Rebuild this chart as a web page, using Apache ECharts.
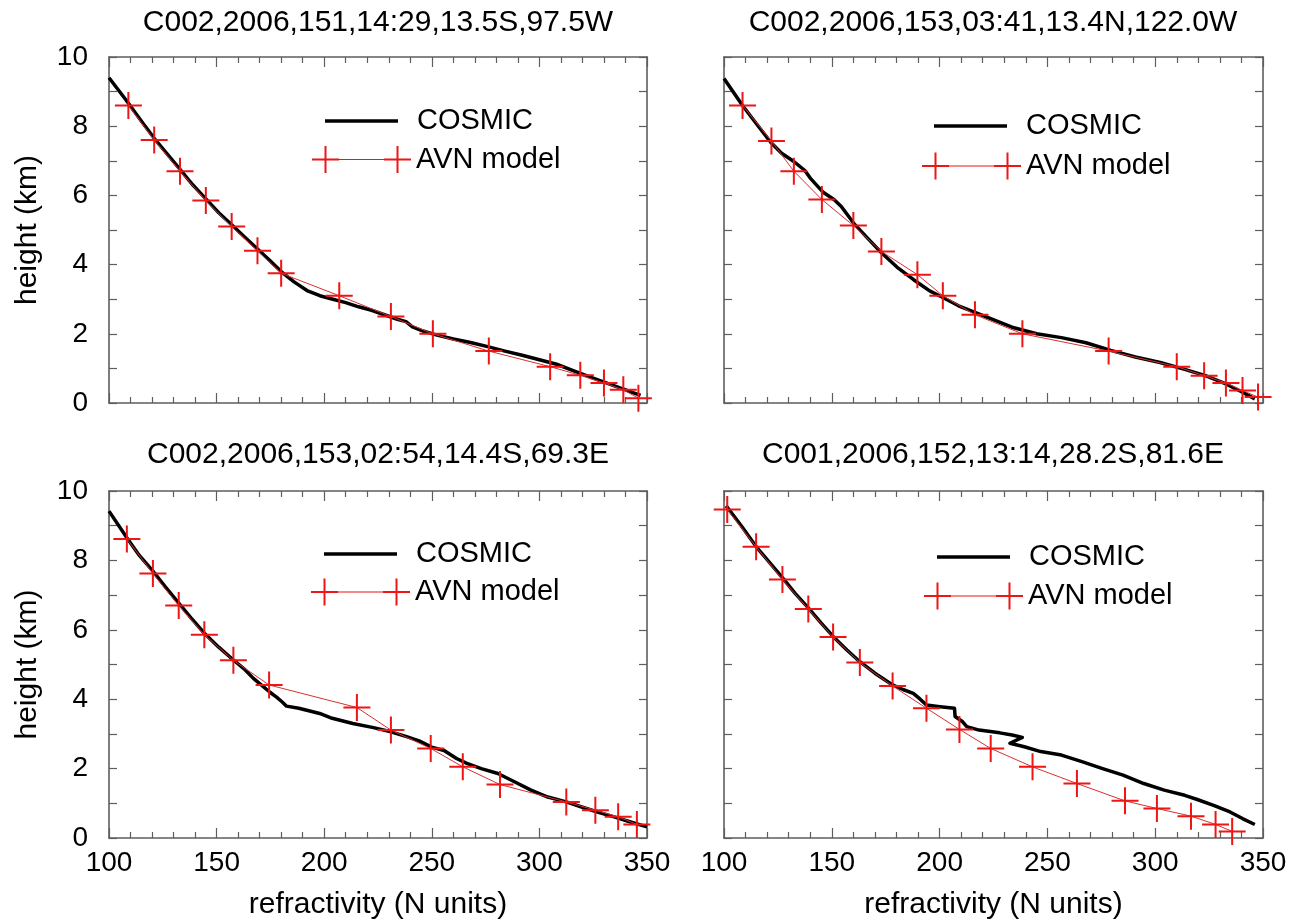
<!DOCTYPE html>
<html>
<head>
<meta charset="utf-8">
<script src="https://cdn.jsdelivr.net/npm/echarts@6/dist/echarts.min.js"></script>
<style>
  html, body { margin: 0; padding: 0; background: #fff; }
  #chart { width: 1294px; height: 921px; }
</style>
</head>
<body>
<div id="chart"></div>
<script>
// ---------------- DATA ----------------
const panelTitles = [
  'C002,2006,151,14:29,13.5S,97.5W',
  'C002,2006,153,03:41,13.4N,122.0W',
  'C002,2006,153,02:54,14.4S,69.3E',
  'C001,2006,152,13:14,28.2S,81.6E'
];
const seriesNames = ['COSMIC', 'AVN model'];
const xAxisName = 'refractivity (N units)';
const yAxisName = 'height (km)';
const xTickLabels = [100, 150, 200, 250, 300, 350];
const yTickLabels = [0, 2, 4, 6, 8, 10];

// panel 1 (top-left)
const cosmicTL = [[100,9.4],[108,8.75],[115,8.15],[121,7.65],[127,7.2],[133,6.75],[139,6.3],[145,5.9],[151,5.5],[157,5.15],[163,4.8],[169,4.45],[175,4.1],[180,3.8],[186,3.5],[192,3.25],[198,3.1],[204,3.0],[210,2.9],[216,2.78],[222,2.68],[228,2.55],[234,2.42],[238,2.35],[241,2.2],[246,2.08],[252,1.97],[260,1.85],[268,1.75],[276,1.63],[284,1.5],[292,1.38],[300,1.25],[308,1.12],[316,0.93],[324,0.74],[332,0.56],[340,0.38],[347,0.22]];
const avnTL = [[109,8.6],[121,7.6],[133,6.7],[145,5.85],[157,5.1],[169,4.4],[180,3.75],[207,3.1],[231,2.5],[250.5,2.0],[276.5,1.5],[305,1.05],[319,0.8],[330,0.58],[339,0.38],[346,0.14]];

// panel 2 (top-right)
const cosmicTR = [[100,9.38],[108.6,8.6],[115.3,8.05],[121.9,7.52],[126.7,7.22],[132.4,6.98],[137.5,6.72],[140,6.5],[145.8,6.1],[151,5.88],[154.4,5.68],[160.1,5.2],[166.8,4.75],[172.9,4.35],[180.2,3.93],[187.8,3.57],[195.4,3.24],[201.5,3.05],[208.8,2.81],[216.4,2.62],[224,2.43],[233.6,2.19],[245,2.0],[256.5,1.89],[267.9,1.74],[279.4,1.52],[290.8,1.33],[302.3,1.17],[313.7,0.97],[323.3,0.79],[332.8,0.55],[340.5,0.31],[346.2,0.12]];
const avnTR = [[108.6,8.6],[122,7.57],[132.4,6.7],[145.4,5.88],[160,5.13],[173,4.38],[189.7,3.71],[201.5,3.1],[216.4,2.55],[238.4,2.0],[278.4,1.5],[310,1.05],[322.7,0.79],[332.8,0.58],[340.5,0.36],[347.7,0.17]];

// panel 3 (bottom-left)
const cosmicBL = [[100,9.42],[108.3,8.65],[114,8.15],[120.4,7.69],[126,7.25],[132.4,6.77],[138,6.35],[144.3,5.9],[151,5.5],[157.8,5.13],[163.2,4.85],[167.1,4.6],[171,4.4],[174.8,4.2],[178,4.05],[180.5,3.92],[182.5,3.8],[188.2,3.74],[197.9,3.59],[203.7,3.45],[213.3,3.3],[222.9,3.18],[231,3.06],[238.3,2.92],[244.1,2.8],[249.9,2.62],[255.7,2.52],[261.5,2.29],[266.3,2.15],[273,2.0],[280.7,1.86],[288.4,1.62],[296.1,1.38],[303.9,1.18],[312.5,1.04],[319.3,0.9],[327,0.75],[334.7,0.61],[342.4,0.46],[350,0.32]];
const avnBL = [[108.3,8.62],[120.4,7.62],[132.4,6.7],[144.3,5.86],[157.8,5.12],[174.4,4.41],[215.2,3.76],[231,3.11],[249.5,2.58],[264.4,2.05],[281.7,1.54],[312.5,1.04],[326,0.8],[336.6,0.61],[345.3,0.39]];

// panel 4 (bottom-right)
const cosmicBR = [[101,9.57],[108,9.0],[114.9,8.4],[121,7.95],[127.1,7.5],[133,7.05],[139.1,6.63],[145,6.2],[150.6,5.81],[157,5.42],[163,5.08],[170,4.75],[178.2,4.41],[183,4.28],[187.8,4.17],[191,4.0],[193.9,3.83],[199.2,3.79],[206.9,3.74],[207.2,3.5],[210.7,3.35],[212.6,3.21],[218.3,3.11],[227.9,3.03],[233.6,2.97],[238.4,2.9],[232.6,2.73],[239.3,2.63],[246.9,2.49],[256.5,2.39],[266,2.2],[275.6,2.0],[285.1,1.81],[294.7,1.57],[304.2,1.38],[313.7,1.23],[319.5,1.11],[327.1,0.94],[334.7,0.75],[340.5,0.56],[346.2,0.39]];
const avnBR = [[101.5,9.47],[114.9,8.39],[127.1,7.45],[139.1,6.6],[150.6,5.79],[163,5.06],[178.2,4.38],[193.9,3.74],[209.2,3.13],[223.7,2.58],[243.1,2.05],[263.7,1.57],[286,1.07],[300.8,0.85],[316.6,0.63],[328,0.39],[335.7,0.19]];

const cosmicData = [cosmicTL, cosmicTR, cosmicBL, cosmicBR];
const avnData = [avnTL, avnTR, avnBL, avnBR];

// ---------------- LAYOUT / STYLE ----------------
const FONT = '"Liberation Sans", Arial, Helvetica, sans-serif';
const RED = '#ee1515';
const AXIS_COLOR = '#5e5e5e';
const grids = [
  { left: 109, top: 57, width: 538, height: 346 },
  { left: 724, top: 57, width: 539, height: 346 },
  { left: 109, top: 491, width: 538, height: 347 },
  { left: 724, top: 491, width: 539, height: 347 }
];
const titlePos = [
  { x: 378, top: 8 }, { x: 993, top: 8 },
  { x: 378, top: 440 }, { x: 993, top: 440 }
];
const legendPos = [
  { cosLeft: 325, cosCy: 120, avnLeft: 312, avnCy: 158.5 },
  { cosLeft: 934, cosCy: 125, avnLeft: 922, avnCy: 165 },
  { cosLeft: 324, cosCy: 553, avnLeft: 311, avnCy: 591 },
  { cosLeft: 937, cosCy: 556, avnLeft: 924, avnCy: 595 }
];
const plusPath = 'path://M0,12.5H27V14.5H0Z M12.5,0H14.5V27H12.5Z';
const avnIcon = 'path://M0,12.5H27V14.5H0Z M12.5,0H14.5V27H12.5Z M27,13H72V14H27Z M72,12.5H99V14.5H72Z M84.5,0H86.5V27H84.5Z';
const cosmicIcon = 'path://M0,0H73V3.6H0Z';

const xMin = xTickLabels[0], xMax = xTickLabels[xTickLabels.length - 1];
const xInt = xTickLabels[1] - xTickLabels[0];
const yMin = yTickLabels[0], yMax = yTickLabels[yTickLabels.length - 1];
const yInt = yTickLabels[1] - yTickLabels[0];

const xAxes = [], yAxes = [], series = [], titles = [], legends = [];
for (let i = 0; i < 4; i++) {
  const isBottom = i >= 2, isLeft = (i % 2 === 0);
  const baseX = {
    type: 'value', gridIndex: i, min: xMin, max: xMax, interval: xInt,
    axisLine: { show: true, onZero: false, lineStyle: { color: AXIS_COLOR, width: 1.6 } },
    axisTick: { show: true, inside: true, length: 10, lineStyle: { color: AXIS_COLOR, width: 1.2 } },
    minorTick: { show: true, splitNumber: 5, length: 6, lineStyle: { color: AXIS_COLOR, width: 1.2 } },
    splitLine: { show: false }, minorSplitLine: { show: false }
  };
  xAxes.push(Object.assign({}, baseX, {
    position: 'bottom',
    axisLabel: { show: isBottom, fontSize: 28, fontFamily: FONT, color: '#000', margin: 11 },
    name: isBottom ? xAxisName : '', nameLocation: 'middle', nameGap: 52,
    nameTextStyle: { fontSize: 30, fontFamily: FONT, color: '#000' }
  }));
  xAxes.push(Object.assign({}, baseX, { position: 'top', axisLabel: { show: false } }));
  const baseY = {
    type: 'value', gridIndex: i, min: yMin, max: yMax, interval: yInt,
    axisLine: { show: true, onZero: false, lineStyle: { color: AXIS_COLOR, width: 1.6 } },
    axisTick: { show: true, inside: true, length: 8, lineStyle: { color: AXIS_COLOR, width: 1.2 } },
    minorTick: { show: true, splitNumber: 2, length: 8, lineStyle: { color: AXIS_COLOR, width: 1.2 } },
    splitLine: { show: false }, minorSplitLine: { show: false }
  };
  yAxes.push(Object.assign({}, baseY, {
    position: 'left',
    axisLabel: { show: isLeft, fontSize: 28, fontFamily: FONT, color: '#000', margin: 21 },
    name: isLeft ? yAxisName : '', nameLocation: 'middle', nameGap: 66, nameRotate: 90,
    nameTextStyle: { fontSize: 30, fontFamily: FONT, color: '#000' }
  }));
  yAxes.push(Object.assign({}, baseY, { position: 'right', axisLabel: { show: false } }));

  series.push({
    type: 'line', name: seriesNames[0], xAxisIndex: 2 * i, yAxisIndex: 2 * i,
    data: cosmicData[i], symbol: 'none', showSymbol: false,
    lineStyle: { color: '#000', width: 3.5, join: 'round' }, itemStyle: { color: '#000' },
    z: 2, clip: false, animation: false
  });
  series.push({
    type: 'line', name: seriesNames[1], xAxisIndex: 2 * i, yAxisIndex: 2 * i,
    data: avnData[i], symbol: plusPath, symbolSize: 27, showSymbol: true,
    lineStyle: { color: '#d83030', width: 1 }, itemStyle: { color: RED, borderWidth: 0 },
    z: 3, clip: false, animation: false
  });

  titles.push({
    text: panelTitles[i], left: titlePos[i].x, top: titlePos[i].top, textAlign: 'center', padding: 0,
    textStyle: { fontSize: 30, fontWeight: 'normal', fontFamily: FONT, color: '#000' }
  });
  const lp = legendPos[i];
  legends.push({
    data: [{ name: seriesNames[0], icon: cosmicIcon, itemStyle: { color: '#000' } }],
    orient: 'vertical', left: lp.cosLeft, top: lp.cosCy - 13.5, padding: 0,
    itemWidth: 73, itemHeight: 27, selectedMode: false, symbolKeepAspect: true,
    textStyle: { fontSize: 29, fontFamily: FONT, color: '#000', padding: [0, 0, 0, 14] }
  });
  legends.push({
    data: [{ name: seriesNames[1], icon: avnIcon }], orient: 'vertical', left: lp.avnLeft, top: lp.avnCy - 13.5, padding: 0,
    itemWidth: 99, itemHeight: 27, selectedMode: false, symbolKeepAspect: true,
    textStyle: { fontSize: 29, fontFamily: FONT, color: '#000' }
  });
}

const chart = echarts.init(document.getElementById('chart'), null, { renderer: 'canvas' });
chart.setOption({
  backgroundColor: '#fff',
  animation: false,
  title: titles,
  legend: legends,
  grid: grids.map(g => Object.assign({ containLabel: false, outerBoundsMode: 'none' }, g)),
  xAxis: xAxes,
  yAxis: yAxes,
  series: series
});
</script>
</body>
</html>
